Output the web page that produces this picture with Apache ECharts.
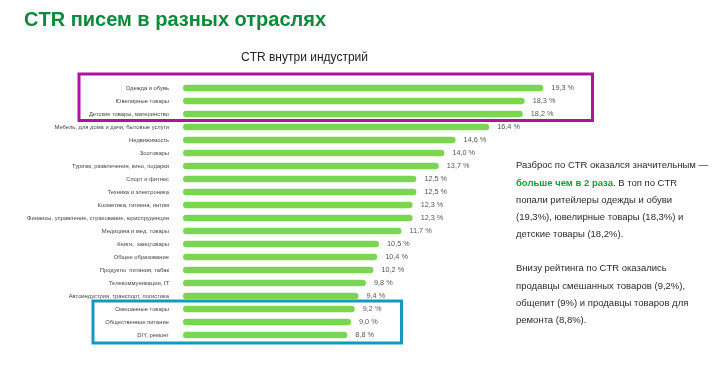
<!DOCTYPE html>
<html><head><meta charset="utf-8">
<script src="https://cdn.jsdelivr.net/npm/echarts@6/dist/echarts.min.js"></script>
<style>html,body{margin:0;padding:0;background:#fff}#c{width:725px;height:365px}</style>
</head><body><div id="c"></div>
<script>
const titleText = 'CTR писем в разных отраслях';
const subtitleText = 'CTR внутри индустрий';
const categories = [
  'Одежда и обувь',
  'Ювелирные товары',
  'Детские товары, материнство',
  'Мебель, для дома и дачи, бытовые услуги',
  'Недвижимость',
  'Зоотовары',
  'Туризм, развлечения, кино, подарки',
  'Спорт и фитнес',
  'Техника и электроника',
  'Косметика, гигиена, интим',
  'Финансы, управление, страхование, юриспруденция',
  'Медицина и мед. товары',
  'Книги,  канцтовары',
  'Общее образование',
  'Продукты  питания, табак',
  'Телекоммуникации, IT',
  'Автоиндустрия, транспорт, логистика',
  'Смешанные товары',
  'Общественное питание',
  'DIY, ремонт'
];
const ctrValues = [19.3, 18.3, 18.2, 16.4, 14.6, 14.0, 13.7, 12.5, 12.5, 12.3, 12.3, 11.7, 10.5, 10.4, 10.2, 9.8, 9.4, 9.2, 9.0, 8.8];
const notePara1 = ['Разброс по CTR оказался значительным —', '{g|больше чем в 2 раза}. В топ по CTR', 'попали ритейлеры одежды и обуви', '(19,3%), ювелирные товары (18,3%) и', 'детские товары (18,2%).'];
const notePara2 = ['Внизу рейтинга по CTR оказались', 'продавцы смешанных товаров (9,2%),', 'общепит (9%) и продавцы товаров для', 'ремонта (8,8%).'];

const chart = echarts.init(document.getElementById('c'), null, {renderer: 'canvas'});
const FONT = 'Liberation Sans, Arial, sans-serif';
chart.setOption({
  animation: false,
  backgroundColor: '#ffffff',
  title: [
    {text: titleText, left: 24, top: 10, padding: 0, textStyle: {color: '#0b8a3e', fontSize: 20, fontWeight: 'bold', fontFamily: FONT}},
    {text: subtitleText, left: 241, top: 52, padding: 0, textStyle: {color: '#222', fontSize: 12, fontWeight: 'normal', fontFamily: FONT}}
  ],
  grid: {left: 183, top: 81.5, width: 373.4, height: 260, containLabel: false},
  xAxis: {type: 'value', min: 0, max: 20, show: false},
  yAxis: {
    type: 'category', data: categories, inverse: true,
    axisLine: {show: false}, axisTick: {show: false}, splitLine: {show: false},
    axisLabel: {color: '#444', fontSize: 5.8, fontFamily: FONT, margin: 14}
  },
  series: [{
    type: 'bar', data: ctrValues, barWidth: 6.5,
    itemStyle: {color: '#7ad651', borderRadius: 3.5},
    label: {show: true, position: 'right', distance: 8, color: '#555', fontSize: 7.3, fontFamily: FONT,
      formatter: p => p.value.toFixed(1).replace('.', ',') + ' %'}
  }],
  graphic: [
    {type: 'rect', shape: {x: 79, y: 74, width: 513.5, height: 46.5}, style: {fill: 'none', stroke: '#b0139f', lineWidth: 3}},
    {type: 'rect', shape: {x: 93, y: 301, width: 308.5, height: 42}, style: {fill: 'none', stroke: '#1697bd', lineWidth: 3}},
    {type: 'text', left: 516, top: 157, style: {text: notePara1.join('\n'), fill: '#2a2a2a', font: '9.5px ' + FONT, lineHeight: 17.3,
      rich: {g: {fill: '#169a3c', fontWeight: 'bold', fontSize: 9.5, fontFamily: FONT, lineHeight: 17.3}}}},
    {type: 'text', left: 516, top: 260, style: {text: notePara2.join('\n'), fill: '#2a2a2a', font: '9.5px ' + FONT, lineHeight: 17.3}}
  ]
});
</script></body></html>
